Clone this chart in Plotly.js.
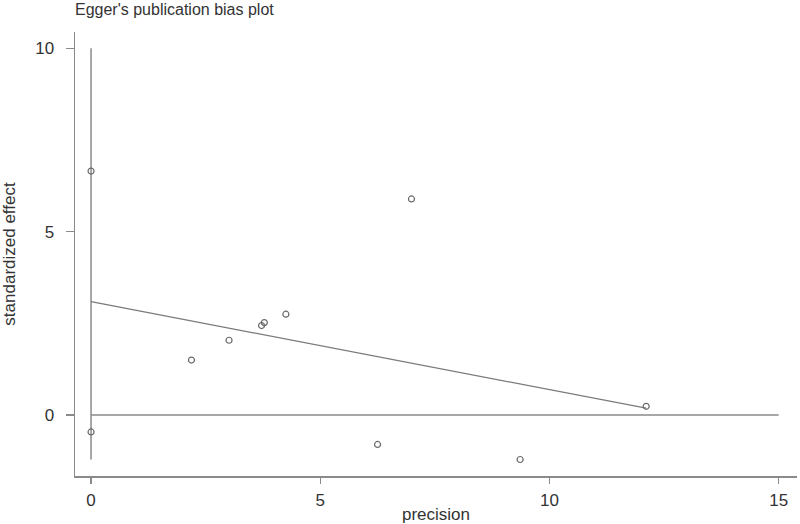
<!DOCTYPE html>
<html>
<head>
<meta charset="utf-8">
<script src="https://cdn.plot.ly/plotly-3.0.1.min.js"></script>
<style>html,body{margin:0;padding:0;background:#fff;}#chart{width:800px;height:524px;}</style>
</head>
<body>
<div id="chart"></div>
<script>
// Study points
const precision = [0, 0, 2.19, 3.01, 3.72, 3.78, 4.25, 6.99, 6.25, 9.36, 12.11];
const stdEffect = [6.65, -0.46, 1.50, 2.04, 2.44, 2.52, 2.75, 5.89, -0.80, -1.21, 0.24];
// Egger regression line
const regX = [0, 12.11];
const regY = [3.09, 0.19];
// Reference lines
const vLineX = [0, 0];
const vLineY = [-1.21, 10];
const hLineX = [0, 15];
const hLineY = [0, 0];
const xTicks = [0, 5, 10, 15];
const yTicks = [0, 5, 10];

const lineColor = '#8a8a8a';
const fontFam = '"Liberation Sans Narrow", "Arial Narrow", "Liberation Sans", Arial, sans-serif';
const traces = [
  {x: vLineX, y: vLineY, mode: 'lines', line: {color: lineColor, width: 1.5}, hoverinfo: 'skip'},
  {x: hLineX, y: hLineY, mode: 'lines', line: {color: lineColor, width: 1.5}, hoverinfo: 'skip'},
  {x: regX, y: regY, mode: 'lines', line: {color: '#7a7a7a', width: 1.2}, hoverinfo: 'skip'},
  {x: precision, y: stdEffect, mode: 'markers', type: 'scatter',
   marker: {symbol: 'circle-open', size: 6, color: '#6a6a6a', line: {width: 1.2, color: '#6a6a6a'}}}
];
const layout = {
  width: 800, height: 524,
  margin: {l: 75, r: 3, t: 32, b: 48},
  paper_bgcolor: '#fff', plot_bgcolor: '#fff',
  showlegend: false,
  font: {family: fontFam, size: 17, color: '#333'},
  title: {text: "Egger's publication bias plot", x: 0, xanchor: 'left', xref: 'paper',
          y: 1, yref: 'container', yanchor: 'top', pad: {t: 4},
          font: {family: fontFam, size: 16, color: '#333'}},
  xaxis: {range: [-0.35, 15.4], tickvals: xTicks, ticktext: xTicks.map(String),
          showgrid: false, zeroline: false, showline: true, linecolor: lineColor, linewidth: 1.5,
          ticks: 'outside', ticklen: 6, tickcolor: lineColor, tickwidth: 1.2, ticklabelstandoff: 2,
          title: {text: 'precision', standoff: 2, font: {family: fontFam, size: 17}}},
  yaxis: {range: [-1.66, 10.44], tickvals: yTicks, ticktext: yTicks.map(String),
          showgrid: false, zeroline: false, showline: true, linecolor: lineColor, linewidth: 1.5,
          ticks: 'outside', ticklen: 8, tickcolor: lineColor, tickwidth: 1.2, ticklabelstandoff: 8,
          title: {text: 'standardized effect', standoff: 16, font: {family: fontFam, size: 17}}}
};
Plotly.newPlot('chart', traces, layout, {displayModeBar: false, staticPlot: true});
</script>
</body>
</html>
